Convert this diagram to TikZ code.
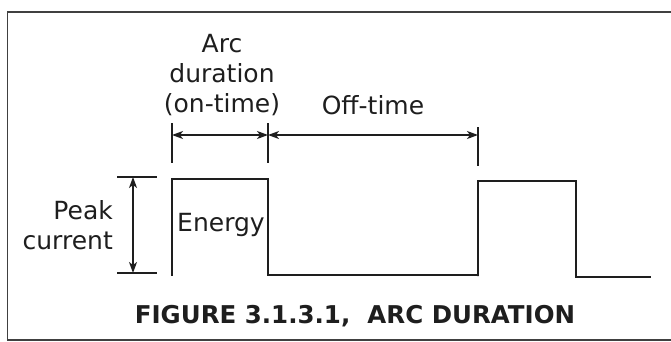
\documentclass[tikz,border=0pt]{standalone}
\usepackage{fontspec}
\setmainfont{DejaVu Sans}
\usetikzlibrary{arrows.meta}
\definecolor{ink}{HTML}{1E1E1E}
\tikzset{
  frameline/.style={line width=1.4pt, draw=ink!85},
  pulse/.style={line width=2.4pt, draw=ink, line cap=rect, line join=miter},
  tick/.style={line width=1.2pt, draw=ink},
  dimarrow/.style={line width=1.3pt, draw=ink, {Stealth[length=11pt,width=8pt,inset=3pt]}-{Stealth[length=11pt,width=8pt,inset=3pt]}},
  label/.style={text=ink, font=\fontsize{25}{30}\selectfont, inner sep=0pt},
  caption/.style={text=ink, font=\fontsize{24.5}{26}\selectfont\bfseries, inner sep=0pt}
}
\begin{document}
\begin{tikzpicture}[x=1pt,y=-1pt]
\useasboundingbox (0,0) rectangle (671,342);
% frame
\draw[frameline] (671,12) -- (7.5,12) -- (7.5,340) -- (671,340);
% pulse train
\coordinate (p0) at (172,275);
\coordinate (p1) at (172,179);
\coordinate (p2) at (268,179);
\coordinate (p3) at (268,275);
\coordinate (p4) at (478,276);
\coordinate (p5) at (478,181);
\coordinate (p6) at (576,181);
\coordinate (p7) at (576,277);
\coordinate (p8) at (650,277);
\draw[pulse] (p0) -- (p1) -- (p2) -- (p3) -- (p3 -| p4) -- (p4) -- (p5) -- (p6) -- (p7) -- (p8);
% extension ticks for time dimensions
\coordinate (ta1) at (172,123); \coordinate (ta2) at (172,163);
\coordinate (tb1) at (268,123); \coordinate (tb2) at (268,163);
\coordinate (tc1) at (478,127); \coordinate (tc2) at (478,166);
\draw[tick] (ta1) -- (ta2);
\draw[tick] (tb1) -- (tb2);
\draw[tick] (tc1) -- (tc2);
\coordinate (da) at (172,135);
\coordinate (db) at (268,135);
\coordinate (dc) at (478,135);
\draw[dimarrow] (da) -- (db);
\draw[dimarrow] (db) -- (dc);
% peak current dimension
\coordinate (h1a) at (117,177); \coordinate (h1b) at (157,177);
\coordinate (h2a) at (117,273); \coordinate (h2b) at (157,273);
\draw[tick] (h1a) -- (h1b);
\draw[tick] (h2a) -- (h2b);
\coordinate (va) at (133,177);
\coordinate (vb) at (133,273);
\draw[dimarrow] (va) -- (vb);
% labels
\node[label, align=center] (arc) at (222,75) {Arc\\duration\\(on-time)};
\node[label] (off) at (373,105) {Off-time};
\node[label, align=right, anchor=east] (peak) at (113,225) {Peak\\current};
\node[label] (energy) at (221,225) {Energy};
\node[caption] (cap) at (355,316) {FIGURE 3.1.3.1,\hspace{0.7em}ARC DURATION};
\end{tikzpicture}
\end{document}
